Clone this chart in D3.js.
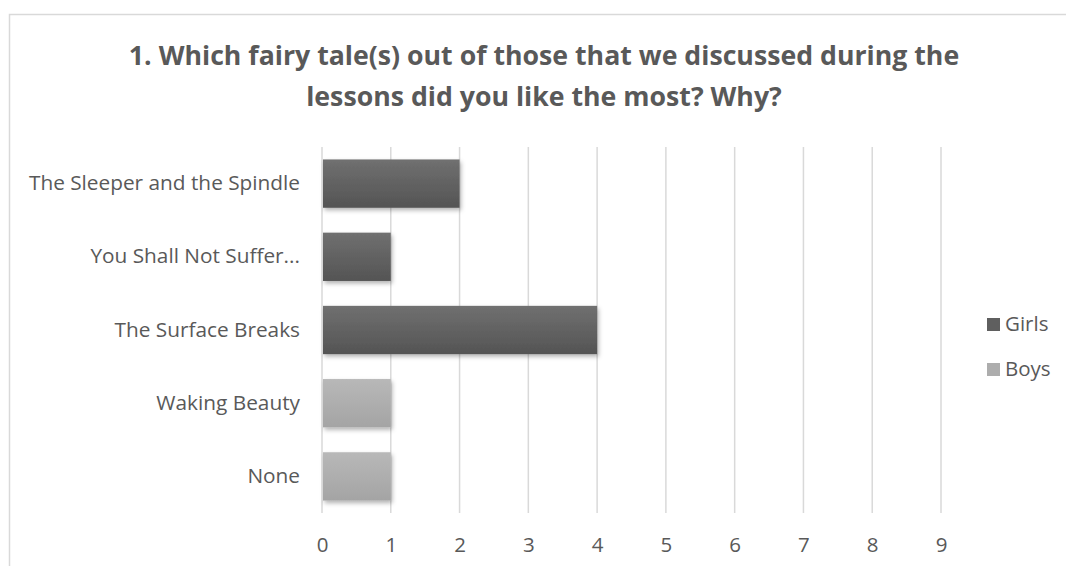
<!DOCTYPE html>
<html><head><meta charset="utf-8">
<script src="https://cdn.jsdelivr.net/npm/d3@7"></script>
<style>body{margin:0;background:#fff;} svg{display:block;font-family:"Open Sans",sans-serif;}</style>
</head><body>
<svg id="c" width="1066" height="566"></svg>
<script>
const categories = ["The Sleeper and the Spindle","You Shall Not Suffer...","The Surface Breaks","Waking Beauty","None"];
const seriesNames = ["Girls","Boys"];
const girls = [2,1,4,0,0];
const boys = [0,0,0,1,1];
const ticks = [0,1,2,3,4,5,6,7,8,9];
const titleLines = ["1. Which fairy tale(s) out of those that we discussed during the","lessons did you like the most? Why?"];

const svg = d3.select("#c");
const defs = svg.append("defs");
function grad(id, c1, c2){
  const g = defs.append("linearGradient").attr("id",id).attr("x1",0).attr("y1",0).attr("x2",0).attr("y2",1);
  g.append("stop").attr("offset","0%").attr("stop-color",c1);
  g.append("stop").attr("offset","100%").attr("stop-color",c2);
}
grad("gG","#707070","#545454");
grad("gB","#b8b8b8","#a4a4a4");
const f = defs.append("filter").attr("id","sh").attr("x","-10%").attr("y","-20%").attr("width","130%").attr("height","160%");
f.append("feDropShadow").attr("dx",1.5).attr("dy",2.5).attr("stdDeviation",2).attr("flood-color","#000").attr("flood-opacity",0.3);

// chart border
svg.append("rect").attr("x",9.5).attr("y",14.5).attr("width",1070).attr("height",570)
  .attr("fill","none").attr("stroke","#d9d9d9").attr("stroke-width",1.5);

const x = d3.scaleLinear().domain([0,9]).range([322,941]);
const y = d3.scaleBand().domain(categories).range([147,513]).paddingInner(0.34).paddingOuter(0.17);

// gridlines
svg.append("g").selectAll("line").data(ticks).join("line")
  .attr("x1",d=>x(d)).attr("x2",d=>x(d)).attr("y1",147).attr("y2",513)
  .attr("stroke","#d9d9d9").attr("stroke-width",1.5);

// bars
const colors = {Girls:"url(#gG)", Boys:"url(#gB)"};
const data = [girls, boys];
seriesNames.forEach((s,si)=>{
  svg.append("g").attr("filter","url(#sh)").selectAll("rect")
    .data(categories.map((c,i)=>({c, v:data[si][i]})).filter(d=>d.v>0))
    .join("rect")
    .attr("x",x(0)+1).attr("y",d=>y(d.c)).attr("width",d=>x(d.v)-x(0)-1).attr("height",y.bandwidth())
    .attr("fill",colors[s]);
});

// x axis labels
const xa = svg.append("g").attr("transform","translate(0,513)")
  .call(d3.axisBottom(x).tickValues(ticks).tickSize(0).tickPadding(24).tickFormat(d3.format("d")));
xa.select(".domain").remove();
xa.selectAll("text").attr("font-size",20.5).attr("fill","#595959").attr("font-family","'Open Sans',sans-serif");

// y axis labels
const ya = svg.append("g").attr("transform","translate(300,0)")
  .call(d3.axisLeft(y).tickSize(0).tickPadding(0));
ya.select(".domain").remove();
ya.selectAll("text").attr("font-size",20.8).attr("fill","#595959").attr("font-family","'Open Sans',sans-serif");

// title
svg.append("g").selectAll("text").data(titleLines).join("text")
  .attr("x",544).attr("y",(d,i)=>65+i*41).attr("text-anchor","middle")
  .attr("font-size",26.7).attr("font-weight","bold").attr("fill","#595959").text(d=>d);

// legend
const lg = svg.append("g");
const lc = {Girls:"#5f5f5f", Boys:"#adadad"};
seriesNames.forEach((s,i)=>{
  const yy = 324 + i*45;
  lg.append("rect").attr("x",987).attr("y",yy-6).attr("width",13).attr("height",13).attr("fill",lc[s]);
  lg.append("text").attr("x",1005).attr("y",yy).attr("dy","0.35em").attr("font-size",20.5).attr("fill","#595959").text(s);
});
</script>
</body></html>
